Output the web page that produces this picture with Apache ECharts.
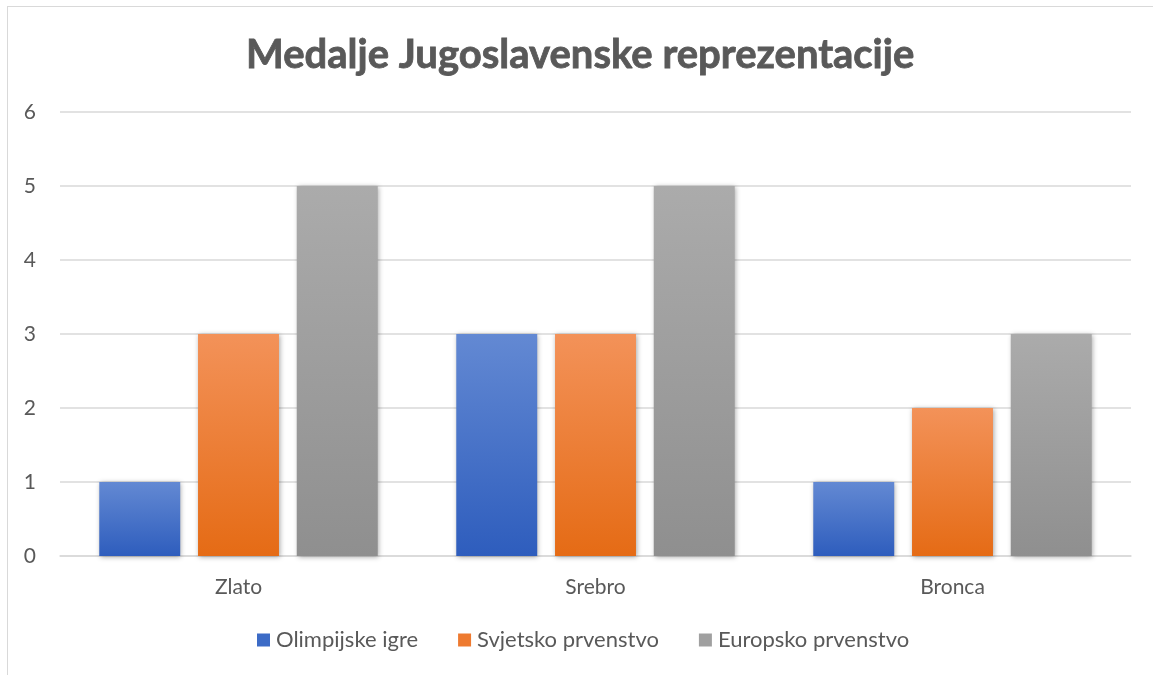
<!DOCTYPE html>
<html><head><meta charset="utf-8">
<script src="https://cdn.jsdelivr.net/npm/echarts@6/dist/echarts.min.js"></script>
<style>
html,body{margin:0;padding:0;background:#fff;}
#frame{position:absolute;left:7px;top:6px;width:1160px;height:700px;border:1.5px solid #d9d9d9;box-sizing:border-box;}
#c{position:absolute;left:0;top:0;width:1153px;height:675px;}
</style></head><body>
<div id="frame"></div>
<div id="c"></div>
<script>
const categories = ['Zlato', 'Srebro', 'Bronca'];
const seriesNames = ['Olimpijske igre', 'Svjetsko prvenstvo', 'Europsko prvenstvo'];
const olimpijske = [1, 3, 1];
const svjetsko = [3, 3, 2];
const europsko = [5, 5, 3];
const yTicks = [0, 1, 2, 3, 4, 5, 6];

const grads = [
  ['#6389d3', '#2e5dbd'],
  ['#f39259', '#e56b15'],
  ['#ababab', '#8f8f8f']
];
const legendColors = ['#3c6bc6', '#ee7a30', '#a0a0a0'];
const font = 'Lato, "Open Sans", sans-serif';
const txt = '#595959';

function grad(i){
  return new echarts.graphic.LinearGradient(0,0,0,1,[{offset:0,color:grads[i][0]},{offset:1,color:grads[i][1]}]);
}
const datas = [olimpijske, svjetsko, europsko];
const chart = echarts.init(document.getElementById('c'));
chart.setOption({
  animation:false,
  title:{text:'Medalje Jugoslavenske reprezentacije',left:241,top:30,
    textStyle:{fontFamily:font,fontSize:40,fontWeight:'bold',color:txt,textBorderColor:txt,textBorderWidth:0.8}},
  legend:{bottom:19,left:252,itemWidth:13,itemHeight:13,itemGap:40,icon:'rect',
    textStyle:{fontFamily:font,fontSize:22,color:txt,padding:[0,0,0,1]},
    data:seriesNames.map((n,i)=>({name:n,itemStyle:{color:legendColors[i]}}))},
  grid:{left:60,right:22,top:112,bottom:119},
  xAxis:{type:'category',data:categories,
    axisLine:{lineStyle:{color:'#d9d9d9',width:1.5}},axisTick:{show:false},
    axisLabel:{fontFamily:font,fontSize:21,color:txt,margin:21}},
  yAxis:{type:'value',min:yTicks[0],max:yTicks[yTicks.length-1],interval:1,
    axisLine:{show:false},axisTick:{show:false},
    splitLine:{lineStyle:{color:'#d9d9d9',width:1.5}},
    axisLabel:{fontFamily:font,fontSize:21,color:txt,margin:24,
      formatter:v=>yTicks.includes(v)?String(v):''}},
  series:seriesNames.map((n,i)=>({name:n,type:'bar',data:datas[i],
    barGap:'22%',barCategoryGap:'22%',
    itemStyle:{color:grad(i),shadowBlur:5,shadowColor:'rgba(0,0,0,0.35)',shadowOffsetX:1,shadowOffsetY:1}}))
});
</script></body></html>
